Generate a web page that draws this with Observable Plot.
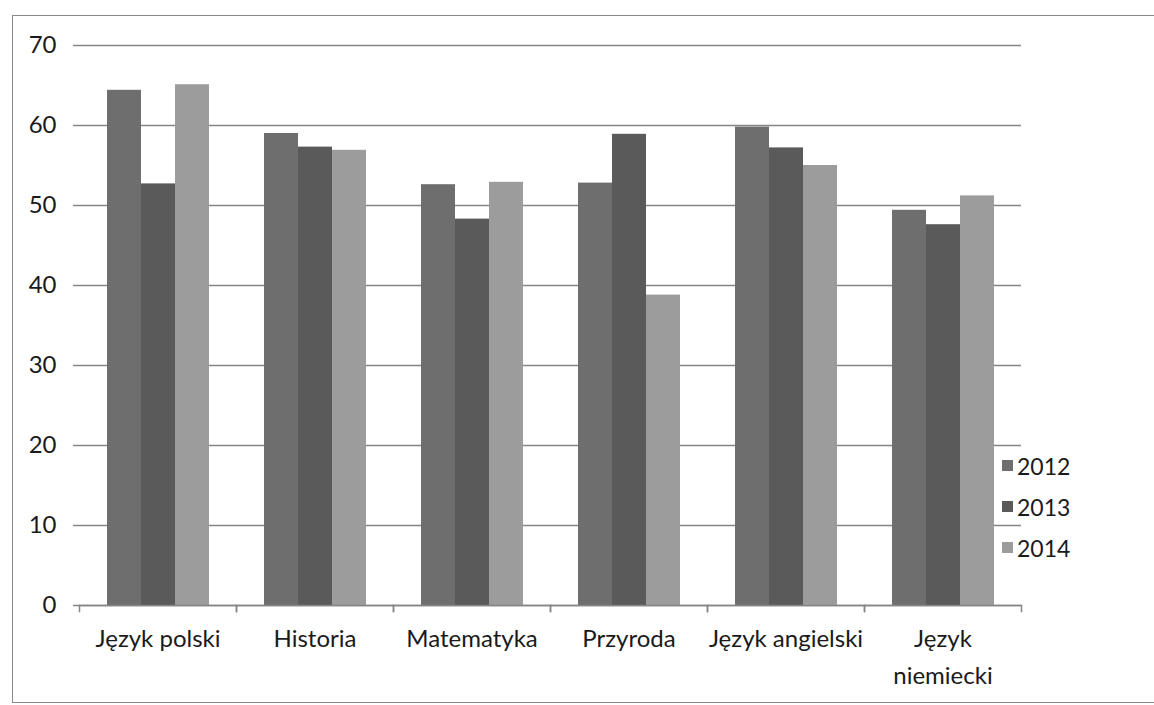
<!DOCTYPE html>
<html>
<head>
<meta charset="utf-8">
<script src="https://cdn.jsdelivr.net/npm/d3@7"></script>
<script src="https://cdn.jsdelivr.net/npm/@observablehq/plot@0.6"></script>
<style>
  html, body { margin: 0; padding: 0; background: #fff; overflow: hidden; }
  #wrap { position: relative; width: 1154px; height: 705px; }
  #border { position: absolute; left: 12px; top: 15px; right: -5px; height: 686px; border: 1.5px solid #8a8a8a; }
  #chart { position: absolute; left: 0; top: 0; }
  #legend { position: absolute; left: 1002px; top: 445px; font-family: Lato, sans-serif; font-size: 23px; color: #1a1a1a; }
  .item { display: flex; align-items: center; height: 41px; }
  .sw { width: 11px; height: 11px; margin-right: 4px; }
</style>
</head>
<body>
<div id="wrap">
  <div id="border"></div>
  <div id="chart"></div>
  <div id="legend"></div>
</div>
<script>
const categories = ["Język polski", "Historia", "Matematyka", "Przyroda", "Język angielski", "Język niemiecki"];
const categoryLabels = ["Język polski", "Historia", "Matematyka", "Przyroda", "Język angielski", "Język\nniemiecki"];
const years = ["2012", "2013", "2014"];
const v2012 = [64.4, 59.0, 52.6, 52.8, 59.8, 49.4];
const v2013 = [52.7, 57.3, 48.3, 58.9, 57.2, 47.6];
const v2014 = [65.1, 56.9, 52.9, 38.8, 55.0, 51.2];
const yTicks = [0, 10, 20, 30, 40, 50, 60, 70];
const colors = ["#6e6e6e", "#5a5a5a", "#9c9c9c"];

const series = [v2012, v2013, v2014];
const data = categories.flatMap((c, i) => years.map((y, j) => ({category: c, year: y, value: series[j][i]})));

const gridColor = "#858585";
const H = 705, mTop = 45, mBottom = 100;

const chart = Plot.plot({
  width: 1154,
  height: H,
  marginLeft: 78,
  marginRight: 133,
  marginTop: mTop,
  marginBottom: mBottom,
  style: {fontFamily: "Lato, sans-serif", fontSize: "24px", color: "#1a1a1a", background: "transparent"},
  fx: {domain: categories, padding: 0, label: null},
  x: {domain: years, paddingInner: 0, paddingOuter: 0.77, axis: null},
  y: {domain: [0, 70], label: null},
  color: {domain: years, range: colors},
  marks: [
    Plot.gridY(yTicks, {stroke: gridColor, strokeOpacity: 1, strokeWidth: 1.6}),
    Plot.barY(data, {fx: "category", x: "year", y: "value", fill: "year"}),
    Plot.ruleY([0], {stroke: gridColor, strokeWidth: 1.6}),
    Plot.frame({anchor: "left", insetTop: H - mTop - mBottom, insetBottom: -6, stroke: gridColor, strokeWidth: 1.5}),
    Plot.frame({anchor: "right", insetTop: H - mTop - mBottom, insetBottom: -6, stroke: gridColor, strokeWidth: 1.5}),
    Plot.axisY(yTicks, {tickSize: 6, tickPadding: 17, line: true, stroke: gridColor, strokeWidth: 1.5, fill: "#1a1a1a", label: null, fontSize: 24}),
    Plot.axisFx({anchor: "bottom", tickSize: 0, tickPadding: 15, label: null, fontSize: 24, fill: "#1a1a1a", lineHeight: 1.55,
      tickFormat: d => categoryLabels[categories.indexOf(d)]})
  ]
});
document.getElementById("chart").appendChild(chart);

const legend = document.getElementById("legend");
years.forEach((y, i) => {
  const item = document.createElement("div");
  item.className = "item";
  const sw = document.createElement("span");
  sw.className = "sw";
  sw.style.background = colors[i];
  const t = document.createElement("span");
  t.textContent = y;
  item.appendChild(sw);
  item.appendChild(t);
  legend.appendChild(item);
});
</script>
</body>
</html>
